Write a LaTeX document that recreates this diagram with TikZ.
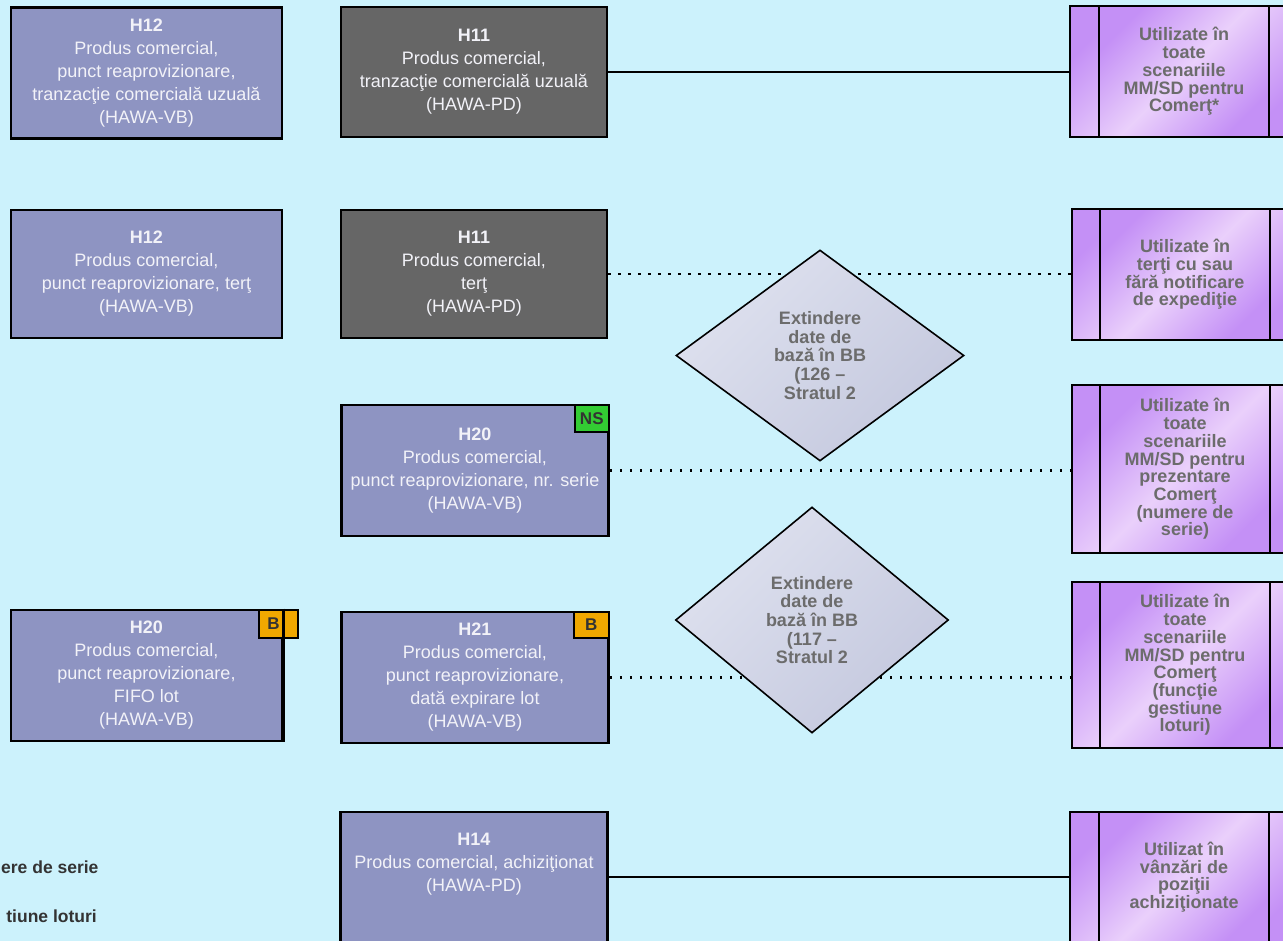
\documentclass[tikz,border=0pt]{standalone}
\usepackage{fontspec}
\setmainfont{Liberation Sans}
\usepackage{tikz}
\usetikzlibrary{shapes.geometric,positioning}
\definecolor{bgcyan}{RGB}{204,242,252}
\definecolor{boxblue}{RGB}{142,148,194}
\definecolor{boxgray}{RGB}{102,102,102}
\definecolor{boxtext}{RGB}{242,242,248}
\definecolor{lavdark}{RGB}{196,144,246}
\definecolor{lavlight}{RGB}{234,208,251}
\definecolor{dialight}{RGB}{240,242,250}
\definecolor{diadark}{RGB}{196,200,222}
\definecolor{txtgray}{RGB}{108,108,108}
\definecolor{nsgreen}{RGB}{51,204,51}
\definecolor{borange}{RGB}{240,168,0}
\definecolor{flagtext}{RGB}{51,51,51}

\begin{document}
\begin{tikzpicture}[x=1pt,y=-1pt,
  hbox/.style={draw,line width=2.6pt,fill=boxblue,text=boxtext,align=center,inner sep=0pt,font=\fontsize{18}{23}\selectfont},
  pdbox/.style={hbox,fill=boxgray},
  usagebox/.style={draw,line width=2.4pt,top color=lavdark,bottom color=lavdark,middle color=lavlight,shading angle=45,inner sep=0pt},
  usagetext/.style={usagebox,minimum width=170pt,text=txtgray,align=center,font=\fontsize{18}{17.7}\selectfont\bfseries},
  extbox/.style={diamond,draw,line width=1.6pt,top color=dialight!60!diadark,middle color=dialight,bottom color=diadark,shading angle=45,inner sep=0pt,text=txtgray,align=center,font=\fontsize{18}{18.7}\selectfont\bfseries},
  flag/.style={draw,line width=2pt,inner sep=0pt,text=flagtext,font=\fontsize{17}{17}\selectfont\bfseries},
  legend/.style={text=flagtext,inner sep=0pt,font=\fontsize{17.5}{17.5}\selectfont\bfseries},
  solidlink/.style={line width=2.4pt},
  dotlink/.style={line width=2.2pt,dash pattern=on 2.2pt off 7.8pt}]
\useasboundingbox (0,0) rectangle (1283,941);
\clip (0,0) rectangle (1283,941);
\fill[bgcyan] (0,0) rectangle (1283,941);

\node[hbox,minimum width=271pt,minimum height=131pt] (h12a) at (146.5,73) {\textbf{H12}\\Produs comercial,\\punct reaprovizionare,\\tranzacţie comercială uzuală\\(HAWA-VB)};
\node[pdbox,minimum width=266pt,minimum height=130pt] (h11a) at (474,72) {\textbf{H11}\\Produs comercial,\\tranzacţie comercială uzuală\\(HAWA-PD)};
\node[hbox,minimum width=271pt,minimum height=128pt] (h12b) at (146.5,274) {\textbf{H12}\\Produs comercial,\\punct reaprovizionare, terţ\\(HAWA-VB)};
\node[pdbox,minimum width=266pt,minimum height=128pt] (h11b) at (474,274) {\textbf{H11}\\Produs comercial,\\terţ\\(HAWA-PD)};
\node[hbox,minimum width=267pt,minimum height=131pt] (h20a) at (475,470.5) {\textbf{H20}\\Produs comercial,\\punct reaprovizionare, nr. serie\\(HAWA-VB)};
\node[hbox,minimum width=271pt,minimum height=131pt] (h20b) at (146.5,675.5) {\textbf{H20}\\Produs comercial,\\punct reaprovizionare,\\FIFO lot\\(HAWA-VB)};
\node[hbox,minimum width=267pt,minimum height=131pt] (h21) at (475,677.5) {\textbf{H21}\\Produs comercial,\\punct reaprovizionare,\\dată expirare lot\\(HAWA-VB)};
\node[hbox,minimum width=267pt,minimum height=130pt] (h14) at (474,877) {};
\node[text=boxtext,align=center,inner sep=0pt,font=\fontsize{18}{23}\selectfont,below=22pt of h14.north] (h14t) {\textbf{H14}\\Produs comercial, achiziţionat\\(HAWA-PD)};

\node[flag,fill=nsgreen,minimum width=34pt,minimum height=27pt,anchor=north east] (nsa) at (h20a.north east) {NS};
\node[flag,fill=borange,minimum height=28pt,text width=23pt,inner xsep=8pt,align=left,anchor=north west] (lota) at ([xshift=-25pt]h20b.north east) {B};
\draw[line width=2.6pt] (h20b.north east) -- (h20b.south east);
\node[flag,fill=borange,minimum width=35pt,minimum height=26pt,anchor=north east] (lotb) at (h21.north east) {B};

\node[usagebox,minimum width=230pt,minimum height=131pt] (u1) at (1185,71.5) {};
\node[usagetext,minimum height=131pt] (u1t) at (1184,71.5) {Utilizate în\\toate\\scenariile\\MM/SD pentru\\Comerţ*};
\node[usagebox,minimum width=228pt,minimum height=131pt] (u2) at (1186,274.5) {};
\node[usagetext,minimum height=131pt] (u2t) at (1185,274.5) {Utilizate în\\terţi cu sau\\fără notificare\\de expediţie};
\node[usagebox,minimum width=228pt,minimum height=168pt] (u3) at (1186,469) {};
\node[usagetext,minimum height=168pt] (u3t) at (1185,469) {Utilizate în\\toate\\scenariile\\MM/SD pentru\\prezentare\\Comerţ\\(numere de\\serie)};
\node[usagebox,minimum width=228pt,minimum height=166pt] (u4) at (1186,665) {};
\node[usagetext,minimum height=166pt] (u4t) at (1185,665) {Utilizate în\\toate\\scenariile\\MM/SD pentru\\Comerţ\\(funcţie\\gestiune\\loturi)};
\node[usagebox,minimum width=230pt,minimum height=130pt] (u5) at (1185,877) {};
\node[usagetext,minimum height=130pt] (u5t) at (1184,877) {Utilizat în\\vânzări de\\poziţii\\achiziţionate};

\draw[solidlink] (h11a.east) -- (h11a.east -| u1.west);
\draw[dotlink] (h11b.east) -- (h11b.east -| u2.west);
\draw[dotlink] (h20a.east) -- (h20a.east -| u3.west);
\draw[dotlink] (h21.east) -- (h21.east -| u4.west);
\draw[solidlink] (h14.east) -- (h14.east -| u5.west);

\node[extbox,minimum width=288pt,minimum height=211pt] (ext1) at (820,355.5) {Extindere\\date de\\bază în BB\\(126 –\\Stratul 2};
\node[extbox,minimum width=273pt,minimum height=226pt] (ext2) at (812,620) {Extindere\\date de\\bază în BB\\(117 –\\Stratul 2};

\node[legend,anchor=west] (lgns) at (1,867) {ere de serie};
\node[legend,anchor=east] (lglot) at (97,916) {tiune loturi};
\end{tikzpicture}
\end{document}
